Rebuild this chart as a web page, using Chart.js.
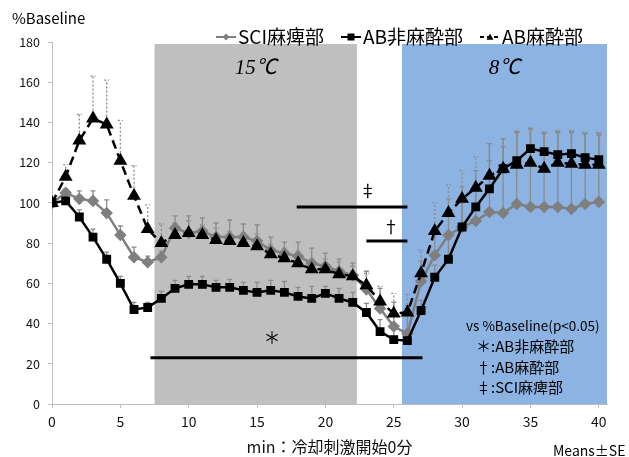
<!DOCTYPE html>
<html>
<head>
<meta charset="utf-8">
<script src="https://cdn.jsdelivr.net/npm/chart.js@4.4.1/dist/chart.umd.min.js"></script>
<style>
html,body{margin:0;padding:0;background:#fff;}
#wrap{position:relative;width:629px;height:457px;}
</style>
</head>
<body>
<div id="wrap"><canvas id="c" width="629" height="457"></canvas></div>
<script>
// ---- data ----
const minutes = [0,1,2,3,4,5,6,7,8,9,10,11,12,13,14,15,16,17,18,19,20,21,22,23,24,25,26,27,28,29,30,31,32,33,34,35,36,37,38,39,40];
const seriesNames = ['SCI麻痺部','AB非麻酔部','AB麻酔部'];
const sciMean   = [100,105,102,101,95,84,73,70.5,73,87.5,85,86,83,83,83,81,76.5,75,73.5,70,68.5,66,64,57,47.5,38.5,35,61,74,84,88,91,95.5,95,99.5,98,98,98,97,99.5,100.5];
const abNonMean = [100,101,93,83,72,60,47,48,52.5,57.5,59.5,59.5,58,58,56.5,55.5,56.5,55.5,53.5,52.5,55,52.5,50.5,45.5,36,32,31.5,46.5,63,72,88,98,107,117,121,127,125.5,124,124.5,122.5,121.5];
const abAnesMean= [100,113,131,142,139,121,103.5,87,80,84,85,84,81.5,81,80,78.5,74.5,72.5,70,67,67,64.5,63.5,59,51,45,45.5,65,86,95,102,107.5,113.5,117,119,120,117,120,119.5,119,119];
const sciSE     = [0,2,4,5,6.5,4.5,5,3,3,6,8.5,6.5,7,8.5,6.5,8,6.5,5.5,7,7.5,6.5,6,6,9,10,12,14,10,12,18,20,25,34,37,36,39,37,37,38,35,33];
const abNonSE   = [0,2,3.5,4,3.5,3.5,3.5,2.5,3.5,4,4,4,3.5,4,4,5,5,5.5,4.5,6,3.5,5,5,4.5,6,6,4,5,6,10,12,10,14,11,14,10,9.5,11.5,11,12,13];
const abAnesSE  = [0,6,13,21,22,20,15,12,9.5,6,6,5,6,5,5,6,5,5,6,5,5,6,5,6,7.5,10,9,11.5,14,14,14,15.5,16,15,16.5,17,17.5,16,16.5,16,16];
const yTicks = [0,20,40,60,80,100,120,140,160,180];
const xTicks = [0,5,10,15,20,25,30,35,40];
const periodFrom = [7.5, 25.6];
const periodTo   = [22.3, 40.6];
const periodLabels = ['15℃','8℃'];
const sigFrom = [17.9, 23.0, 7.2];
const sigTo   = [26.0, 26.0, 27.1];
const sigLevel= [98, 81, 23];
const sigSymbols = ['‡','†','＊'];
const sigSymX = [23.1, 24.8, 16.1];
const sigSymY = [106, 88, 33];
const noteLines = ['vs %Baseline(p<0.05)','＊:AB非麻酔部','†:AB麻酔部','‡:SCI麻痺部'];

// ---- styles ----
const FONT = "'Noto Sans CJK JP','Noto Sans',sans-serif";
const GRAY = '#7f7f7f';
const periodColors = ['#bfbfbf','#8db3e2'];

const toXY = arr => minutes.map((m,i)=>({x:m,y:arr[i]}));

const errors = [
  {data: sciMean, se: sciSE, color: '#8a8a8a', dash: [], width: 1.3},
  {data: abNonMean, se: abNonSE, color: '#8a8a8a', dash: [], width: 1.3},
  {data: abAnesMean, se: abAnesSE, color: '#8c8c8c', dash: [2,2], width: 1.3}
];

function drawMarker(ctx, style, x, y, r, color){
  ctx.save();
  ctx.fillStyle = color;
  ctx.beginPath();
  if(style==='rect'){ ctx.rect(x-r,y-r,2*r,2*r); }
  else if(style==='rectRot'){ ctx.moveTo(x,y-r);ctx.lineTo(x+r,y);ctx.lineTo(x,y+r);ctx.lineTo(x-r,y);ctx.closePath(); }
  else { ctx.moveTo(x,y-r);ctx.lineTo(x+r,y+r*0.8);ctx.lineTo(x-r,y+r*0.8);ctx.closePath(); }
  ctx.fill();
  ctx.restore();
}

const decor = {
  id:'decor',
  beforeDatasetsDraw(chart){
    const {ctx, scales:{x,y}} = chart;
    ctx.save();
    periodFrom.forEach((f,i)=>{
      const x0=x.getPixelForValue(f), x1=x.getPixelForValue(periodTo[i]);
      const y0=y.getPixelForValue(179), y1=y.getPixelForValue(0);
      ctx.fillStyle=periodColors[i];
      ctx.fillRect(x0,y0,x1-x0,y1-y0);
      ctx.fillStyle='#000';
      ctx.font="italic 21px 'Liberation Serif','Noto Sans CJK JP',serif";
      ctx.textAlign='center'; ctx.textBaseline='middle';
      ctx.fillText(periodLabels[i],(x0+x1)/2,y.getPixelForValue(167));
    });
    errors.forEach(e=>{
      ctx.strokeStyle=e.color; ctx.lineWidth=e.width; ctx.setLineDash(e.dash);
      minutes.forEach((m,i)=>{
        if(!e.se[i]) return;
        const px=x.getPixelForValue(m), py=y.getPixelForValue(e.data[i]), pt=y.getPixelForValue(e.data[i]+e.se[i]);
        ctx.beginPath(); ctx.moveTo(px,py); ctx.lineTo(px,pt);
        ctx.moveTo(px-2.5,pt); ctx.lineTo(px+2.5,pt); ctx.stroke();
      });
    });
    ctx.setLineDash([]);
    ctx.restore();
  },
  afterDatasetsDraw(chart){
    const {ctx, scales:{x,y}} = chart;
    ctx.save();
    ctx.strokeStyle='#000'; ctx.lineWidth=3;
    sigFrom.forEach((f,i)=>{
      const yy=y.getPixelForValue(sigLevel[i]);
      ctx.beginPath(); ctx.moveTo(x.getPixelForValue(f),yy); ctx.lineTo(x.getPixelForValue(sigTo[i]),yy); ctx.stroke();
      ctx.fillStyle='#000'; ctx.font="17px "+FONT; ctx.textAlign='center'; ctx.textBaseline='middle';
      ctx.fillText(sigSymbols[i], x.getPixelForValue(sigSymX[i]), y.getPixelForValue(sigSymY[i]));
    });
    ctx.textAlign='left'; ctx.textBaseline='middle'; ctx.fillStyle='#000';
    ctx.font="13.5px "+FONT;
    ctx.fillText(noteLines[0], 466, 326);
    ctx.font="15px "+FONT;
    for(let i=1;i<noteLines.length;i++) ctx.fillText(noteLines[i], 476, 326+20.5*i);
    ctx.font="15px "+FONT; ctx.fillText('%Baseline', 12, 18);
    ctx.font="14px "+FONT; ctx.fillText('Means±SE', 553, 451);
    const legX=[216,341,480], styles=['rectRot','rect','triangle'], cols=[GRAY,'#000','#000'], dashes=[[],[],[4,3]];
    ctx.font="19px "+FONT;
    seriesNames.forEach((n,i)=>{
      const lx=legX[i], ly=37;
      ctx.strokeStyle=cols[i]; ctx.lineWidth=2; ctx.setLineDash(dashes[i]);
      ctx.beginPath(); ctx.moveTo(lx,ly); ctx.lineTo(lx+20,ly); ctx.stroke(); ctx.setLineDash([]);
      drawMarker(ctx, styles[i], lx+10, ly, 3.5, cols[i]);
      ctx.fillStyle='#000'; ctx.fillText(n, lx+22, ly);
    });
    ctx.restore();
  }
};

new Chart(document.getElementById('c'),{
  type:'line',
  data:{
    datasets:[
      {label:seriesNames[0], data:toXY(sciMean), borderColor:GRAY, backgroundColor:GRAY, pointBackgroundColor:GRAY, pointBorderColor:GRAY, pointStyle:'rectRot', pointRadius:4.5, borderWidth:2.5, order:3},
      {label:seriesNames[1], data:toXY(abNonMean), borderColor:'#000', backgroundColor:'#000', pointBackgroundColor:'#000', pointBorderColor:'#000', pointStyle:'rect', pointRadius:4.5, borderWidth:2.5, order:2},
      {label:seriesNames[2], data:toXY(abAnesMean), borderColor:'#000', backgroundColor:'#000', pointBackgroundColor:'#000', pointBorderColor:'#000', pointStyle:'triangle', pointRadius:5.5, borderWidth:2.5, borderDash:[9,5], order:1}
    ]
  },
  options:{
    responsive:false, animation:false, devicePixelRatio:1,
    layout:{padding:{top:42,right:22,left:0,bottom:0}},
    plugins:{legend:{display:false}, tooltip:{enabled:false}},
    scales:{
      x:{type:'linear', min:0, max:40.6,
        afterBuildTicks:s=>{s.ticks=xTicks.map(v=>({value:v}));},
        afterFit:s=>{s.height=53;},
        grid:{drawOnChartArea:false, drawTicks:true, tickLength:4, color:'#bfbfbf'},
        border:{color:'#bfbfbf', width:1},
        ticks:{font:{family:FONT,size:14}, color:'#111', padding:5, maxRotation:0},
        title:{display:true, text:'min：冷却刺激開始0分', font:{family:FONT,size:16}, color:'#111', padding:{top:0,bottom:0}}
      },
      y:{min:0, max:180,
        afterBuildTicks:s=>{s.ticks=yTicks.map(v=>({value:v}));},
        afterFit:s=>{s.width=52;},
        grid:{drawOnChartArea:false, drawTicks:true, tickLength:4, color:'#bfbfbf'},
        border:{color:'#bfbfbf', width:1},
        ticks:{font:{family:FONT,size:12.5}, color:'#111', padding:8}
      }
    }
  },
  plugins:[decor]
});
</script>
</body>
</html>
